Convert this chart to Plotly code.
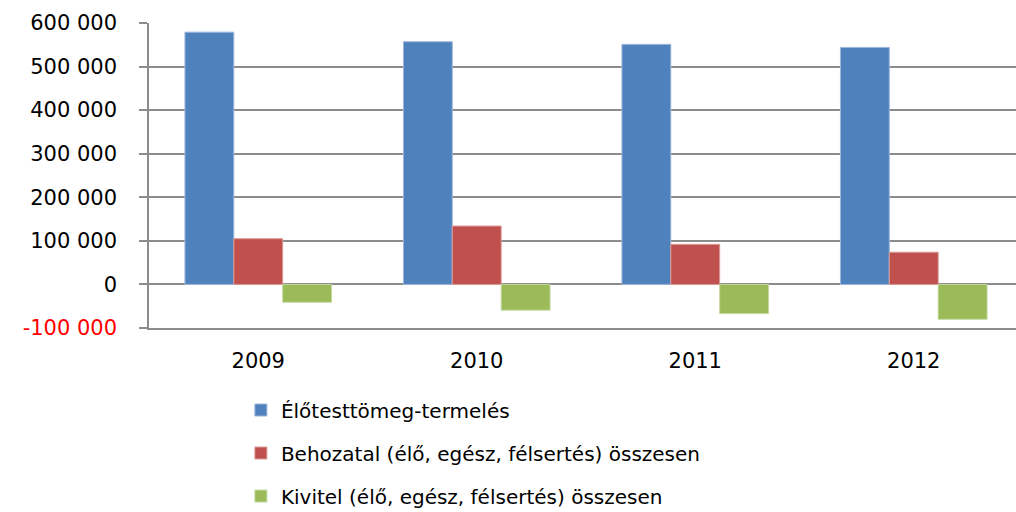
import plotly.graph_objects as go

years = ["2009", "2010", "2011", "2012"]
eloteststomeg = [579000, 557000, 551000, 544000]
behozatal = [105000, 134000, 92000, 74000]
kivitel = [-41000, -59000, -67000, -80000]

series_names = [
    "Élőtesttömeg-termelés",
    "Behozatal (élő, egész, félsertés) összesen",
    "Kivitel (élő, egész, félsertés) összesen",
]
colors = ["#4F81BD", "#C0504D", "#9BBB59"]
borders = ["#9DB7DA", "#DB9A98", "#C4D8A0"]

y_tickvals = [-100000, 0, 100000, 200000, 300000, 400000, 500000, 600000]
y_ticktext = ["<span style='color:#FF0000'>-100 000</span>", "0", "100 000", "200 000",
              "300 000", "400 000", "500 000", "600 000"]

FONT = "DejaVu Sans"
GRID = "#8C8C8C"

fig = go.Figure()
for name, vals, c, b in zip(series_names, [eloteststomeg, behozatal, kivitel], colors, borders):
    fig.add_trace(go.Bar(x=years, y=vals, name=name, legendgroup=name,
                         marker=dict(color=c, line=dict(color=b, width=1))))

fig.update_layout(
    width=1016, height=512,
    margin=dict(l=149, r=0, t=23, b=184, autoexpand=False),
    paper_bgcolor="white", plot_bgcolor="white",
    barmode="group", bargap=0.329, bargroupgap=0,
    font=dict(family=FONT, size=20, color="#000000"),
    xaxis=dict(type="category", range=[-0.5, 3.468], showgrid=False, zeroline=False,
               showline=True, linecolor=GRID, linewidth=1.5, ticks="",
               tickfont=dict(size=21), ticklabelstandoff=13),
    xaxis2=dict(overlaying="x", anchor="free", position=1/7, range=[-0.5, 3.468],
                tickmode="array", tickvals=[-0.5, 0.5, 1.5, 2.5, 3.5], ticks="outside",
                ticklen=8, tickwidth=1.5, tickcolor=GRID, showticklabels=False,
                showgrid=False, zeroline=False, showline=False),
    yaxis=dict(range=[-100000, 600000], tickmode="array", tickvals=y_tickvals,
               ticktext=y_ticktext, showgrid=True, gridcolor=GRID, gridwidth=1.5,
               zeroline=True, zerolinecolor=GRID, zerolinewidth=1.5,
               showline=True, linecolor=GRID, linewidth=1.5,
               ticks="outside", ticklen=8, tickwidth=1.5, tickcolor=GRID,
               tickfont=dict(size=21), ticklabelstandoff=18),
    legend=dict(orientation="v", x=0.106, xanchor="left", y=-0.205, yanchor="top",
                traceorder="grouped", tracegroupgap=14, font=dict(size=20),
                bgcolor="rgba(0,0,0,0)"),
    showlegend=True,
)

fig.write_html("out.html", config={"displayModeBar": False},
               post_script="document.body.style.margin='0';document.body.style.overflow='hidden';")
